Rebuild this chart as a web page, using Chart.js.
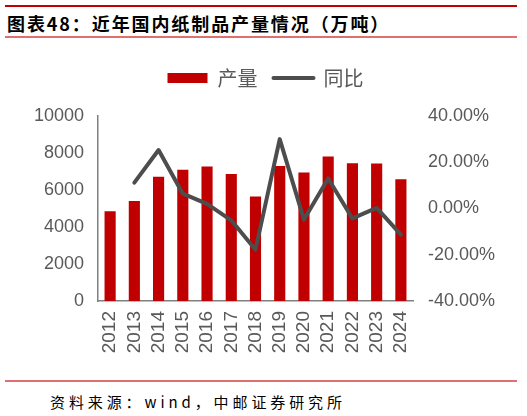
<!DOCTYPE html>
<html>
<head>
<meta charset="utf-8">
<script src="https://cdn.jsdelivr.net/npm/chart.js@4"></script>
<style>
html,body{margin:0;padding:0;background:#fff;width:527px;height:416px;overflow:hidden;position:relative;}
#topline{position:absolute;left:5px;top:5px;width:512px;height:2px;background:#C00000;}
#title{position:absolute;left:7px;top:10px;font-family:"Noto Sans CJK SC";font-weight:bold;font-size:18px;letter-spacing:1.9px;color:#000;line-height:26px;white-space:nowrap;}
#tline{position:absolute;left:5px;top:36px;width:512px;height:1.5px;background:#E07070;}
#bline{position:absolute;left:5px;top:380px;width:512px;height:1.5px;background:#E07070;}
#source{position:absolute;left:50px;top:391px;font-family:"Noto Sans CJK SC";font-size:15px;color:#000;line-height:22px;white-space:nowrap;letter-spacing:3.9px;}
#wrap{position:absolute;left:0;top:52px;width:527px;height:328px;}
</style>
</head>
<body>
<div id="topline"></div>
<div id="title">图表48：近年国内纸制品产量情况（万吨）</div>
<div id="tline"></div>
<div id="wrap"><canvas id="c"></canvas></div>
<div id="bline"></div>
<div id="source">资料来源：wind，中邮证券研究所</div>
<script>
const categories = ["2012","2013","2014","2015","2016","2017","2018","2019","2020","2021","2022","2023","2024"];
const output = [4850, 5400, 6720, 7100, 7265, 6870, 5650, 7300, 6940, 7810, 7445, 7430, 6576];
const yoy = [null, 11.2, 25.3, 6.4, 2.0, -5.1, -17.8, 30.0, -4.8, 13.0, -4.3, 0.3, -11.3];
const leftTicks = [0, 2000, 4000, 6000, 8000, 10000];
const rightTicks = [-40, -20, 0, 20, 40];

const tickColor = '#595959';
const tickFont = {family: '"Liberation Sans", Arial, sans-serif', size: 18};

const legendSpacer = {
  id: 'legendSpacer',
  beforeUpdate(chart) {
    const lg = chart.legend;
    if (lg && !lg._patched) {
      const orig = lg.fit.bind(lg);
      lg.fit = function () { orig(); this.height += 18; };
      lg._patched = true;
    }
  }
};

new Chart(document.getElementById('c'), {
  data: {
    labels: categories,
    datasets: [
      {
        type: 'line', label: '同比', data: yoy, yAxisID: 'y1',
        borderColor: '#4D4D4D', backgroundColor: '#4D4D4D', borderWidth: 4,
        pointRadius: 0, pointHoverRadius: 0, tension: 0, spanGaps: false,
        borderCapStyle: 'round', borderJoinStyle: 'round', order: 0
      },
      {
        type: 'bar', label: '产量', data: output, yAxisID: 'y',
        backgroundColor: '#C00000', borderWidth: 0,
        barPercentage: 0.46, categoryPercentage: 1.0, order: 1
      }
    ]
  },
  plugins: [legendSpacer],
  options: {
    responsive: true, maintainAspectRatio: false, animation: false,
    layout: {padding: {left: 4, right: 0, top: 0, bottom: 0}},
    plugins: {
      tooltip: {enabled: false},
      legend: {
        display: true, position: 'top', reverse: true,
        labels: {
          usePointStyle: true, pointStyleWidth: 40, boxHeight: 10,
          color: tickColor, font: {family: '"Noto Sans CJK SC"', size: 20},
          padding: 16,
          generateLabels(chart) {
            const items = Chart.defaults.plugins.legend.labels.generateLabels(chart);
            items.forEach(it => {
              const ds = chart.data.datasets[it.datasetIndex];
              if (ds.type === 'bar') { it.pointStyle = 'rect'; it.lineWidth = 0; it.strokeStyle = '#C00000'; }
              else { it.pointStyle = 'line'; it.lineWidth = 4; it.lineCap = 'round'; it.strokeStyle = '#4D4D4D'; }
            });
            return items;
          }
        }
      }
    },
    scales: {
      x: {
        grid: {display: false, drawTicks: false},
        border: {display: true, color: '#808080', width: 1.5},
        ticks: {color: tickColor, font: {family: tickFont.family, size: 19}, maxRotation: 90, minRotation: 90, padding: 10, autoSkip: false},
        afterFit(s) { s.height = 79; }
      },
      y: {
        position: 'left', min: 0, max: 10000,
        afterBuildTicks(s) { s.ticks = leftTicks.map(v => ({value: v})); },
        grid: {display: false, drawTicks: false},
        border: {display: true, color: '#808080', width: 1.5},
        ticks: {color: tickColor, font: tickFont, padding: 14, callback: v => String(v)},
        afterFit(s) { s.width = 94; }
      },
      y1: {
        position: 'right', min: -40, max: 40,
        afterBuildTicks(s) { s.ticks = rightTicks.map(v => ({value: v})); },
        grid: {display: false, drawTicks: false},
        border: {display: false},
        ticks: {color: tickColor, font: tickFont, padding: 15, callback: v => v.toFixed(2) + '%'},
        afterFit(s) { s.width = 114; }
      }
    }
  }
});
</script>
</body>
</html>
